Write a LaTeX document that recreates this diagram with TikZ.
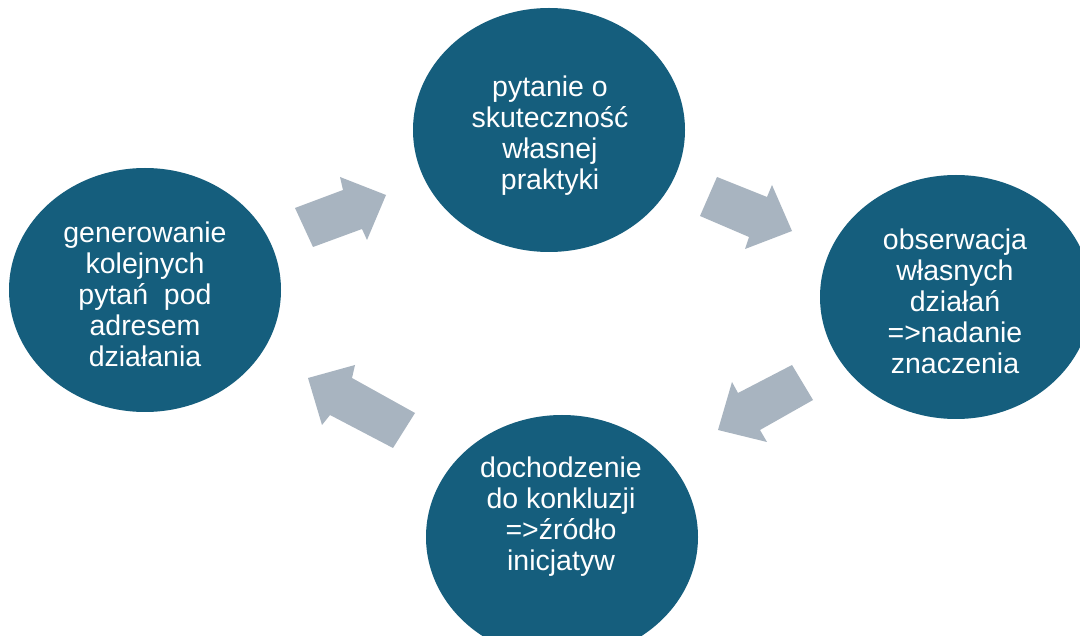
\documentclass[tikz,border=0pt]{standalone}
\usepackage{fontspec}
\setmainfont{Liberation Sans}
\usetikzlibrary{shapes.geometric}
\definecolor{circblue}{RGB}{21,94,125}
\definecolor{arrgray}{RGB}{168,180,192}
\tikzset{
  circ/.style={ellipse, fill=circblue, draw=none, minimum width=272pt, minimum height=244pt, inner sep=0pt},
  txt/.style={text=white, align=center, font=\fontsize{28.5}{31}\selectfont},
  blockarrow/.style={fill=arrgray, draw=none}
}
\begin{document}
\begin{tikzpicture}[x=1pt,y=-1pt]
\useasboundingbox (0,0) rectangle (1080,636);
\clip (0,0) rectangle (1080,636);
\fill[white] (0,0) rectangle (1080,636);
% circles
\node[circ] (top) at (549,130) {};
\node[circ] (left) at (145,290) {};
\node[circ] (right) at (956,297) {};
\node[circ] (bottom) at (562,537) {};
% texts
\node[txt] (ttop) at (550,136) {pytanie o\\skuteczność\\własnej\\praktyki};
\node[txt] (tleft) at (145,294) {generowanie\\kolejnych\\pytań\ \ pod\\adresem\\działania};
\node[txt] (tright) at (955,301) {obserwacja\\własnych\\działań\\=>nadanie\\znaczenia};
\node[txt] (tbottom) at (561,517) {dochodzenie\\do konkluzji\\=>źródło\\inicjatyw};
% block arrows
\fill[blockarrow] (295,208) -- (343,190) -- (340,177) -- (386,195) -- (367,240) -- (362,229) -- (313,247) -- cycle;
\fill[blockarrow] (717,177) -- (767,197) -- (772,185) -- (792,231) -- (745,249) -- (749,237) -- (700,216) -- cycle;
\fill[blockarrow] (792,365) -- (813,400) -- (760,430) -- (767,442) -- (718,430) -- (732,382) -- (738,393) -- cycle;
\fill[blockarrow] (308,378) -- (355,365) -- (352,378) -- (415,413) -- (393,448) -- (330,415) -- (322,425) -- cycle;
\end{tikzpicture}
\end{document}
